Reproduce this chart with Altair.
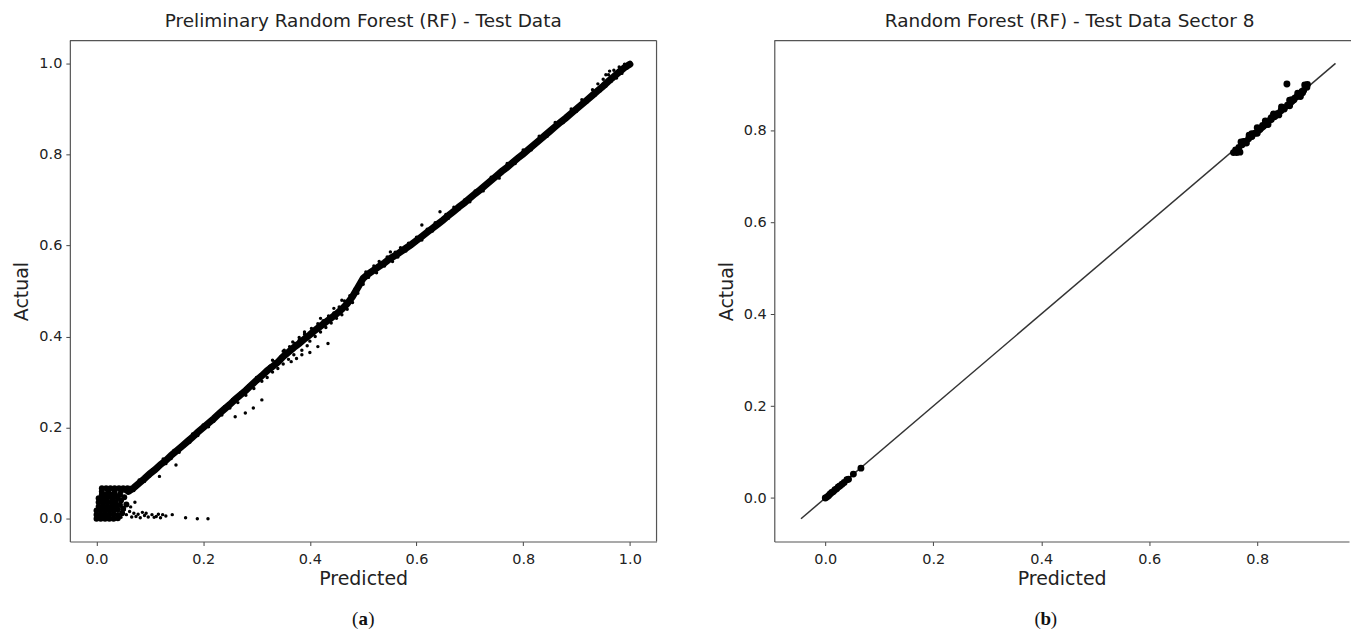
import altair as alt
import pandas as pd

# ---------------- Panel (a): preliminary RF, full test set ----------------
# dense core of the predicted/actual cloud
core_x = [0.06, 0.07, 0.08, 0.09, 0.10, 0.11, 0.12, 0.13, 0.14, 0.15, 0.16, 0.17, 0.18, 0.19,
          0.20, 0.21, 0.22, 0.23, 0.24, 0.25, 0.26, 0.27, 0.28, 0.29, 0.30, 0.31, 0.32, 0.33,
          0.34, 0.35, 0.36, 0.37, 0.38, 0.39, 0.40, 0.41, 0.42, 0.43, 0.44, 0.45, 0.46, 0.47,
          0.48, 0.49, 0.50, 0.51, 0.52, 0.53, 0.54, 0.55, 0.56, 0.57, 0.58, 0.59, 0.60, 0.61,
          0.62, 0.63, 0.64, 0.65, 0.66, 0.67, 0.68, 0.69, 0.70, 0.71, 0.72, 0.73, 0.74, 0.75,
          0.76, 0.77, 0.78, 0.79, 0.80, 0.81, 0.82, 0.83, 0.84, 0.85, 0.86, 0.87, 0.88, 0.89,
          0.90, 0.91, 0.92, 0.93, 0.94, 0.95, 0.96, 0.97, 0.98, 0.99, 1.00]
core_y = [0.060, 0.068, 0.078, 0.088, 0.099, 0.108, 0.119, 0.128, 0.139, 0.149, 0.159, 0.169,
          0.179, 0.190, 0.200, 0.210, 0.220, 0.231, 0.241, 0.251, 0.262, 0.272, 0.282, 0.293,
          0.304, 0.314, 0.325, 0.334, 0.344, 0.356, 0.366, 0.376, 0.385, 0.395, 0.404, 0.414,
          0.423, 0.432, 0.441, 0.450, 0.460, 0.472, 0.488, 0.508, 0.528, 0.538, 0.546, 0.554,
          0.562, 0.571, 0.578, 0.586, 0.594, 0.602, 0.611, 0.620, 0.629, 0.638, 0.647, 0.656,
          0.666, 0.675, 0.685, 0.694, 0.704, 0.714, 0.723, 0.733, 0.743, 0.753, 0.763, 0.772,
          0.782, 0.792, 0.801, 0.811, 0.821, 0.831, 0.841, 0.851, 0.861, 0.871, 0.880, 0.890,
          0.900, 0.910, 0.920, 0.930, 0.940, 0.950, 0.961, 0.971, 0.981, 0.991, 0.998]

# scattered predictions around the core
spread_x = [0.07, 0.08, 0.09, 0.10, 0.105, 0.115, 0.118, 0.125, 0.13, 0.14, 0.145, 0.149, 0.155,
            0.165, 0.175, 0.18, 0.19, 0.20, 0.21, 0.22, 0.225, 0.235, 0.24, 0.25, 0.255, 0.26,
            0.265, 0.27, 0.279, 0.28, 0.285, 0.294, 0.295, 0.30, 0.31, 0.31,
            0.315, 0.32, 0.325, 0.33, 0.335, 0.34, 0.345, 0.35, 0.355, 0.36, 0.362, 0.365, 0.37,
            0.372, 0.375, 0.38, 0.385, 0.39, 0.395, 0.40, 0.403, 0.41, 0.415, 0.42, 0.425, 0.43,
            0.435, 0.44, 0.445, 0.45, 0.455, 0.46, 0.465, 0.47, 0.475, 0.48, 0.485, 0.49, 0.495,
            0.50, 0.415, 0.434, 0.40, 0.385,
            0.505, 0.51, 0.52, 0.525, 0.53, 0.54, 0.545, 0.551, 0.555, 0.56, 0.565, 0.57, 0.58,
            0.585, 0.59, 0.60, 0.61, 0.61, 0.62, 0.63, 0.635, 0.644, 0.645, 0.655, 0.66, 0.67,
            0.68, 0.69, 0.70,
            0.71, 0.725, 0.74, 0.755, 0.77, 0.785, 0.80, 0.815, 0.83, 0.845, 0.86, 0.875, 0.89,
            0.90, 0.91, 0.92, 0.93, 0.935, 0.94, 0.945, 0.95, 0.955, 0.96, 0.965, 0.97, 0.975,
            0.98, 0.985, 0.99, 0.995, 0.955, 0.962,
            0.056, 0.062, 0.066, 0.070, 0.074, 0.078, 0.082, 0.086, 0.090, 0.093, 0.097, 0.104,
            0.108, 0.112, 0.116, 0.120, 0.124, 0.130, 0.142, 0.167, 0.189, 0.209, 0.058, 0.064,
            0.052, 0.072, 0.046, 0.050,
            0.33, 0.352, 0.368, 0.39, 0.42, 0.445, 0.46, 0.38, 0.35]
spread_y = [0.062, 0.085, 0.082, 0.094, 0.108, 0.109, 0.093, 0.131, 0.121, 0.132, 0.150, 0.118,
            0.146, 0.160, 0.168, 0.186, 0.183, 0.206, 0.202, 0.214, 0.228, 0.228, 0.246, 0.243,
            0.262, 0.224, 0.255, 0.276, 0.232, 0.271, 0.292, 0.243, 0.286, 0.310, 0.261, 0.302,
            0.322, 0.310, 0.335, 0.322, 0.345, 0.330, 0.355, 0.340, 0.365, 0.350, 0.378, 0.345,
            0.360, 0.385, 0.352, 0.392, 0.370, 0.405, 0.380, 0.390, 0.418, 0.400, 0.428, 0.410,
            0.435, 0.420, 0.445, 0.430, 0.452, 0.440, 0.465, 0.448, 0.478, 0.460, 0.490, 0.475,
            0.505, 0.495, 0.522, 0.515, 0.378, 0.385, 0.365, 0.360,
            0.542, 0.530, 0.555, 0.540, 0.565, 0.555, 0.575, 0.586, 0.565, 0.585, 0.575, 0.595,
            0.588, 0.605, 0.598, 0.618, 0.645, 0.612, 0.636, 0.632, 0.650, 0.674, 0.652, 0.668,
            0.660, 0.684, 0.680, 0.700, 0.696,
            0.720, 0.720, 0.750, 0.748, 0.780, 0.780, 0.810, 0.810, 0.840, 0.840, 0.870, 0.870,
            0.900, 0.895, 0.920, 0.915, 0.942, 0.930, 0.955, 0.940, 0.965, 0.950, 0.975, 0.960,
            0.985, 0.968, 0.992, 0.978, 0.998, 0.990, 0.975, 0.983,
            0.009, 0.016, 0.004, 0.012, 0.005, 0.010, 0.002, 0.014, 0.007, 0.012, 0.004, 0.009,
            0.003, 0.005, 0.010, 0.002, 0.009, 0.006, 0.009, 0.002, 0.000, 0.000, 0.030, 0.026,
            0.020, 0.036, 0.003, 0.014,
            0.348, 0.370, 0.388, 0.410, 0.440, 0.462, 0.480, 0.398, 0.368]

# tightly packed low-value predictions near the origin
cluster_x = [0.000, 0.008, 0.016, 0.024, 0.032, 0.040,
             0.000, 0.008, 0.016, 0.024, 0.032, 0.040, 0.048,
             0.000, 0.008, 0.016, 0.024, 0.032, 0.040, 0.050,
             0.004, 0.012, 0.020, 0.028, 0.036, 0.044, 0.056,
             0.004, 0.012, 0.020, 0.028, 0.036, 0.046,
             0.004, 0.012, 0.020, 0.030, 0.040, 0.052,
             0.010, 0.018, 0.026, 0.034, 0.044,
             0.010, 0.022, 0.034, 0.046, 0.056,
             0.010, 0.018, 0.026, 0.034, 0.042, 0.050, 0.058, 0.063]
cluster_y = [0.000, 0.000, 0.000, 0.000, 0.000, 0.001,
             0.009, 0.009, 0.009, 0.009, 0.010, 0.008, 0.012,
             0.018, 0.018, 0.018, 0.018, 0.019, 0.020, 0.022,
             0.027, 0.027, 0.027, 0.027, 0.028, 0.030, 0.031,
             0.036, 0.036, 0.036, 0.036, 0.037, 0.040,
             0.045, 0.045, 0.045, 0.045, 0.046, 0.047,
             0.053, 0.053, 0.053, 0.053, 0.053,
             0.060, 0.060, 0.060, 0.061, 0.062,
             0.067, 0.067, 0.067, 0.067, 0.067, 0.067, 0.067, 0.066]

# ---------------- Panel (b): RF, test data of sector 8 ----------------
sector_x = [0.000, 0.003, 0.006, 0.009, 0.012, 0.015, 0.018, 0.021, 0.024, 0.027, 0.031,
            0.035, 0.040, 0.043, 0.052, 0.066,
            0.756, 0.762, 0.768, 0.760, 0.766, 0.772, 0.778, 0.784, 0.790, 0.796, 0.802,
            0.808, 0.814, 0.820, 0.826, 0.832, 0.838, 0.844, 0.850, 0.856, 0.862, 0.868,
            0.874, 0.880, 0.886, 0.892, 0.893, 0.888, 0.770, 0.785, 0.800, 0.815, 0.830,
            0.845, 0.860, 0.875, 0.780, 0.800, 0.820, 0.840, 0.860, 0.880, 0.855,
            0.775, 0.790, 0.805, 0.810, 0.825, 0.835, 0.850, 0.865, 0.870, 0.883, 0.790,
            0.811, 0.826, 0.849, 0.864, 0.884]
sector_y = [0.000, 0.002, 0.005, 0.009, 0.012, 0.014, 0.018, 0.020, 0.024, 0.026, 0.030,
            0.034, 0.040, 0.041, 0.052, 0.065,
            0.751, 0.751, 0.752, 0.757, 0.762, 0.768, 0.775, 0.781, 0.786, 0.793, 0.799,
            0.805, 0.811, 0.817, 0.823, 0.829, 0.836, 0.842, 0.848, 0.854, 0.860, 0.866,
            0.873, 0.879, 0.886, 0.893, 0.899, 0.898, 0.774, 0.789, 0.805, 0.820, 0.835,
            0.850, 0.865, 0.880, 0.772, 0.793, 0.812, 0.833, 0.853, 0.873, 0.900,
            0.775, 0.787, 0.801, 0.810, 0.824, 0.832, 0.846, 0.863, 0.870, 0.884, 0.792,
            0.808, 0.827, 0.846, 0.866, 0.881]
ref_line_x = [-0.045, 0.945]
ref_line_y = [-0.045, 0.945]

tick_values = [0.0, 0.2, 0.4, 0.6, 0.8, 1.0]

FONT = "DejaVu Sans"
FRAME = "#555555"
W_A, H_A = 588, 502
W_B, H_B = 576, 502

core_df = pd.DataFrame({"x": core_x, "y": core_y})
spread_df = pd.DataFrame({"x": spread_x, "y": spread_y})
cluster_df = pd.DataFrame({"x": cluster_x, "y": cluster_y})
sector_df = pd.DataFrame({"x": sector_x, "y": sector_y})
line_df = pd.DataFrame({"x": ref_line_x, "y": ref_line_y})


def axes(xdom, ydom):
    xe = alt.X("x:Q", scale=alt.Scale(domain=xdom, nice=False, zero=False),
               axis=alt.Axis(values=tick_values, format=".1f", title="Predicted"))
    ye = alt.Y("y:Q", scale=alt.Scale(domain=ydom, nice=False, zero=False),
               axis=alt.Axis(values=tick_values, format=".1f", title="Actual"))
    return xe, ye


def caption(letter, cx, cy):
    d = pd.DataFrame({"a": ["("], "b": [letter], "c": [")"]})
    base = alt.Chart(d)
    kw = dict(font="Liberation Serif", fontSize=19, color="#111", baseline="middle")
    left = base.mark_text(align="right", **kw).encode(
        text="a:N", x=alt.value(cx - 5), y=alt.value(cy))
    mid = base.mark_text(align="center", fontWeight="bold", **kw).encode(
        text="b:N", x=alt.value(cx), y=alt.value(cy))
    right = base.mark_text(align="left", **kw).encode(
        text="c:N", x=alt.value(cx + 5), y=alt.value(cy))
    return [left, mid, right]


# ---- panel (a)
xa, ya = axes([-0.05, 1.05], [-0.05, 1.05])
a_core_line = alt.Chart(core_df).mark_line(color="black", strokeWidth=7, strokeCap="round").encode(
    x=xa, y=ya, order="x:Q")
a_spread = alt.Chart(spread_df).mark_circle(color="black", size=12, opacity=1).encode(x=xa, y=ya)
a_cluster = alt.Chart(cluster_df).mark_circle(color="black", size=36, opacity=1).encode(x=xa, y=ya)
a_top = alt.Chart(core_df.head(1)).mark_rule(color=FRAME, strokeWidth=1.2).encode(
    x=alt.value(0), x2=alt.value(W_A), y=alt.value(0))
a_right = alt.Chart(core_df.head(1)).mark_rule(color=FRAME, strokeWidth=1.2).encode(
    x=alt.value(W_A), y=alt.value(0), y2=alt.value(H_A))

panel_a = alt.layer(
    a_core_line, a_spread, a_cluster, a_top, a_right, *caption("a", 294, 580)
).properties(
    width=W_A, height=H_A,
    title=alt.TitleParams("Preliminary Random Forest (RF) - Test Data"),
)

# ---- panel (b)
xb, yb = axes([-0.0945, 0.970], [-0.0945, 0.9945])
b_line = alt.Chart(line_df).mark_line(color="#333333", strokeWidth=1.5).encode(x=xb, y=yb)
b_points = alt.Chart(sector_df).mark_circle(color="black", size=48, opacity=1).encode(x=xb, y=yb)
b_top = alt.Chart(line_df.head(1)).mark_rule(color=FRAME, strokeWidth=1.2).encode(
    x=alt.value(0), x2=alt.value(W_B + 2), y=alt.value(0))

panel_b = alt.layer(
    b_line, b_points, b_top, *caption("b", 272, 580)
).properties(
    width=W_B, height=H_B,
    title=alt.TitleParams("Random Forest (RF) - Test Data Sector 8", dx=8),
)

chart = alt.hconcat(panel_a, panel_b, spacing=59).properties(
    padding={"left": 12, "top": 10, "right": 0, "bottom": 0},
    background="white",
).configure_view(
    stroke=None
).configure_axis(
    labelFont=FONT, labelFontSize=14.5, labelColor="#222222",
    titleFont=FONT, titleFontSize=19, titleFontWeight="normal", titleColor="#222222",
    tickSize=4, tickColor="#444444", tickWidth=1,
    domainColor=FRAME, domainWidth=1.2, grid=False,
    labelPadding=4,
).configure_axisX(
    titlePadding=4, labelPadding=7,
).configure_axisY(
    titlePadding=7,
).configure_title(
    font=FONT, fontSize=18.5, fontWeight="normal", color="#222222", offset=10, anchor="middle",
)

chart.save("out.html", embed_options={"renderer": "svg", "actions": False})
